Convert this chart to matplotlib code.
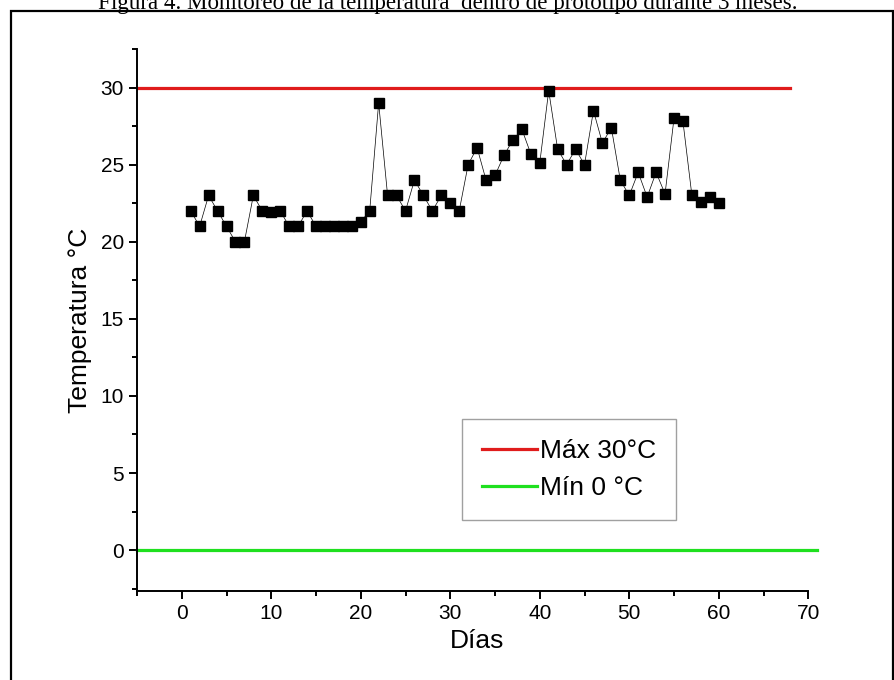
import numpy as np
import matplotlib
matplotlib.use('Agg')
import matplotlib.pyplot as plt
from matplotlib.patches import Rectangle

plt.rcParams['font.family'] = ['Liberation Sans', 'DejaVu Sans']

# Daily temperature readings inside the prototype
dias = list(range(1, 61))
temperatura = [22, 21, 23, 22, 21, 20, 20, 23, 22, 21.9,
               22, 21, 21, 22, 21, 21, 21, 21, 21, 21.3,
               22, 29, 23, 23, 22, 24, 23, 22, 23, 22.5,
               22, 25, 26.1, 24, 24.3, 25.6, 26.6, 27.3, 25.7, 25.1,
               29.8, 26, 25, 26, 25, 28.5, 26.4, 27.4, 24, 23,
               24.5, 22.9, 24.5, 23.1, 28, 27.8, 23, 22.6, 22.9, 22.5]

# Reference limits
t_max, x_max_end = 30, 68
t_min, x_min_end = 0, 71
lbl_max = 'Máx 30°C'
lbl_min = 'Mín 0 °C'

fig = plt.figure(figsize=(8.95, 6.8), dpi=100)
ax = fig.add_axes([137 / 895, 89 / 680, 680.2 / 895, 542 / 680])

ax.plot([-5, x_max_end], [t_max, t_max], color='#e01c1c', lw=2.3, label=lbl_max, zorder=2)
ax.plot([-5, x_min_end], [t_min, t_min], color='#1fe01f', lw=2.3, label=lbl_min, zorder=2,
        clip_on=False)
ax.plot(dias, temperatura, color='black', lw=0.5, marker='s', markersize=7.3,
        markeredgecolor='black', markerfacecolor='black', zorder=3)

ax.set_xlim(-5, 71)
ax.set_ylim(-2.65, 32.5)
ax.spines['top'].set_visible(False)
ax.spines['right'].set_visible(False)
ax.spines['bottom'].set_bounds(-5, 70)
for s in ('left', 'bottom'):
    ax.spines[s].set_linewidth(1.4)

ax.set_xticks(np.arange(0, 71, 10))
ax.set_xticks(np.arange(-5, 71, 5), minor=True)
ax.set_yticks(np.arange(0, 31, 5))
ax.set_yticks(np.arange(-2.5, 32.6, 2.5), minor=True)
ax.tick_params(which='major', direction='out', length=6, width=1.4, labelsize=15)
ax.tick_params(which='minor', direction='out', length=3.5, width=1.4)

ax.set_xlabel('Días', fontsize=19, labelpad=4)
ax.set_ylabel('Temperatura °C', fontsize=19, labelpad=6)

leg = ax.legend(loc='upper left', bbox_to_anchor=(0.478, 0.317), borderaxespad=0,
                fontsize=19, frameon=True, fancybox=False, handlelength=2.1,
                handletextpad=0.1, borderpad=0.75, labelspacing=0.5)
leg.get_frame().set_edgecolor('#888888')
leg.get_frame().set_linewidth(1.0)

# Outer frame and caption
fig.patches.append(Rectangle((11 / 895, -0.01), (893 - 11) / 895, (680 - 11) / 680 + 0.01,
                             transform=fig.transFigure, fill=False, lw=1.6,
                             edgecolor='black'))
fig.text(0.5, 1 - 9 / 680,
         'Figura 4. Monitoreo de la temperatura  dentro de prototipo durante 3 meses.',
         ha='center', va='baseline', fontsize=16.6, family='Liberation Serif')

fig.savefig('out.png', dpi=100)
